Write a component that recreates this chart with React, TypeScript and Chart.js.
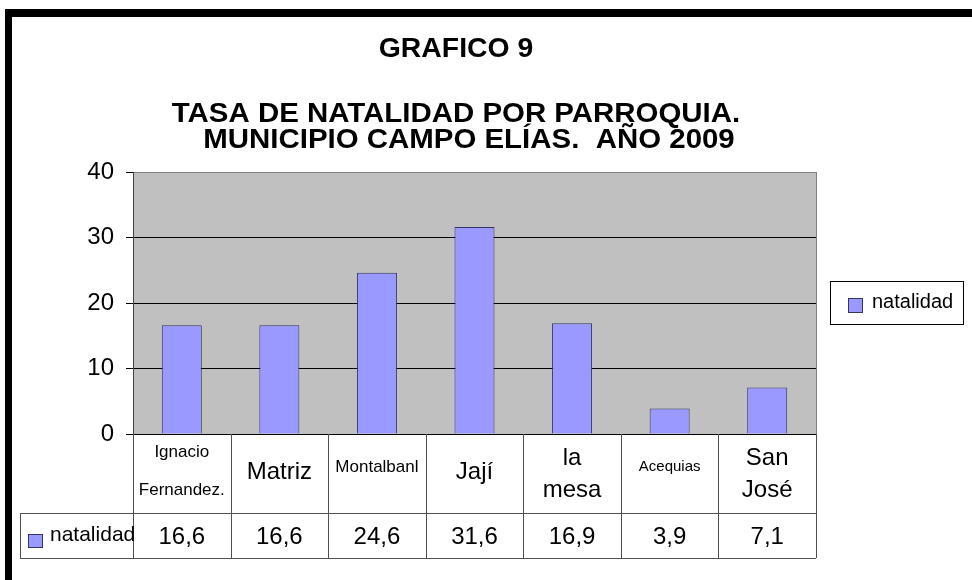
import React, { useEffect, useRef } from "react";
import { Chart, registerables } from "chart.js";

Chart.register(...registerables);

const categories: (string | string[])[] = [
  ["Ignacio", "Fernandez."],
  "Matriz",
  "Montalbanl",
  "Jají",
  ["la", "mesa"],
  "Acequias",
  ["San", "José"],
];
const seriesName = "natalidad";
const natalidad = [16.6, 16.6, 24.6, 31.6, 16.9, 3.9, 7.1];
const yTicks = [0, 10, 20, 30, 40];
const titleLines = ["GRAFICO 9", "TASA DE NATALIDAD POR PARROQUIA.", "MUNICIPIO CAMPO ELÍAS.  AÑO 2009"];
const labelFontSizes = [17, 24, 17, 24, 24, 15, 24];

const FONT = "'Liberation Sans', Arial, sans-serif";
const BAR_FILL = "#9999FF";
const BAR_EDGE = "#333366";
const LINE = "#505050";

function stretchedText(ctx: any, text: string, cx: number, y: number, sx: number) {
  ctx.save();
  ctx.translate(cx, y);
  ctx.scale(sx, 1);
  ctx.fillText(text, 0, 0);
  ctx.restore();
}

const decorPlugin = {
  id: "decor",
  beforeDraw(chart: any) {
    const { ctx, chartArea: a } = chart;
    ctx.save();
    ctx.fillStyle = "#fff";
    ctx.fillRect(0, 0, chart.width, chart.height);
    ctx.fillStyle = "#C0C0C0";
    ctx.fillRect(a.left, a.top, a.right - a.left, a.bottom - a.top);
    ctx.restore();
  },
  afterDraw(chart: any) {
    const { ctx, chartArea: a } = chart;
    const xs = chart.scales.x;
    ctx.save();
    // plot border right
    ctx.strokeStyle = "#808080";
    ctx.lineWidth = 1;
    ctx.beginPath();
    ctx.moveTo(Math.round(a.right) + 0.5, a.top);
    ctx.lineTo(Math.round(a.right) + 0.5, a.bottom);
    ctx.stroke();

    // title
    ctx.fillStyle = "#000";
    ctx.textAlign = "center";
    ctx.textBaseline = "alphabetic";
    ctx.font = `bold 27px ${FONT}`;
    stretchedText(ctx, titleLines[0], 456, 57, 1.05);
    stretchedText(ctx, titleLines[1], 456, 122, 1.09);
    stretchedText(ctx, titleLines[2], 469, 148, 1.09);

    // data table
    const n = categories.length;
    const step = (a.right - a.left) / n;
    const top = Math.round(a.bottom);
    const mid = 513;
    const bot = 558;
    const leftCell = 20;
    ctx.strokeStyle = LINE;
    ctx.lineWidth = 1;
    ctx.beginPath();
    ctx.moveTo(leftCell, mid + 0.5);
    ctx.lineTo(a.right, mid + 0.5);
    ctx.moveTo(leftCell, bot + 0.5);
    ctx.lineTo(a.right, bot + 0.5);
    ctx.moveTo(leftCell + 0.5, mid);
    ctx.lineTo(leftCell + 0.5, bot);
    for (let i = 0; i <= n; i++) {
      const x = Math.round(a.left + i * step) + 0.5;
      ctx.moveTo(x, top);
      ctx.lineTo(x, bot);
    }
    ctx.stroke();

    ctx.textBaseline = "middle";
    ctx.textAlign = "center";
    for (let i = 0; i < n; i++) {
      const cx = xs.getPixelForValue(i);
      const fs = labelFontSizes[i];
      ctx.font = `${fs}px ${FONT}`;
      ctx.fillStyle = "#000";
      const lab = categories[i];
      const lines = Array.isArray(lab) ? lab : [lab];
      let ys: number[];
      if (lines.length === 2) ys = fs < 20 ? [top + 18, top + 56] : [top + 24, top + 56];
      else ys = fs < 20 ? [top + 33] : [top + 38];
      ctx.save();
      ctx.beginPath();
      ctx.rect(a.left + i * step + 1, top, step - 1, mid - top);
      ctx.clip();
      lines.forEach((l, k) => ctx.fillText(l, cx, ys[k]));
      ctx.restore();
      ctx.font = `24px ${FONT}`;
      ctx.fillText(natalidad[i].toFixed(1).replace(".", ","), cx, 537);
    }
    // series key in table
    ctx.fillStyle = BAR_FILL;
    ctx.strokeStyle = BAR_EDGE;
    ctx.fillRect(28, 534, 14, 13);
    ctx.strokeRect(28.5, 534.5, 14, 13);
    ctx.fillStyle = "#000";
    ctx.textAlign = "left";
    ctx.font = `21px ${FONT}`;
    ctx.fillText(seriesName, 50, 535);

    // legend
    ctx.strokeStyle = "#000";
    ctx.strokeRect(830.5, 281.5, 133, 43);
    ctx.fillStyle = BAR_FILL;
    ctx.strokeStyle = BAR_EDGE;
    ctx.fillRect(848, 298, 14, 14);
    ctx.strokeRect(848.5, 298.5, 14, 14);
    ctx.fillStyle = "#000";
    ctx.font = `20px ${FONT}`;
    ctx.fillText(seriesName, 872, 302);

    // outer frame
    ctx.fillStyle = "#000";
    ctx.fillRect(5, 9, chart.width - 5, 8);
    ctx.fillRect(5, 9, 7, chart.height - 9);
    ctx.restore();
  },
};

export default function App() {
  const ref = useRef<HTMLCanvasElement | null>(null);
  useEffect(() => {
    if (!ref.current) return;
    const chart = new Chart(ref.current, {
      type: "bar",
      data: {
        labels: categories.map((c) => (Array.isArray(c) ? c.join(" ") : c)),
        datasets: [
          {
            label: seriesName,
            data: natalidad,
            backgroundColor: BAR_FILL,
            borderColor: BAR_EDGE,
            borderWidth: 1,
            categoryPercentage: 1,
            barPercentage: 0.41,
          },
        ],
      },
      options: {
        responsive: false,
        animation: false,
        devicePixelRatio: 1,
        layout: { padding: { left: 0, top: 172, right: 156, bottom: 146 } },
        plugins: {
          legend: { display: false },
          title: { display: false },
          tooltip: { enabled: false },
        },
        scales: {
          x: { display: false },
          y: {
            min: yTicks[0],
            max: yTicks[yTicks.length - 1],
            afterFit: (s: any) => {
              s.width = 133;
            },
            afterBuildTicks: (s: any) => {
              s.ticks = yTicks.map((v) => ({ value: v }));
            },
            ticks: {
              color: "#000",
              font: { family: FONT, size: 24 },
              padding: 12,
            },
            grid: {
              color: (c: any) => (c.tick && c.tick.value === 40 ? "#808080" : "#000"),
              tickColor: "#000",
              tickLength: 7,
              drawTicks: true,
            },
            border: { display: true, color: "#404040" },
          },
        },
      },
      plugins: [decorPlugin],
    });
    return () => chart.destroy();
  }, []);
  return (
    <div style={{ position: "absolute", left: 0, top: 0, width: 972, height: 580 }}>
      <canvas ref={ref} width={972} height={580} style={{ display: "block" }} />
    </div>
  );
}
